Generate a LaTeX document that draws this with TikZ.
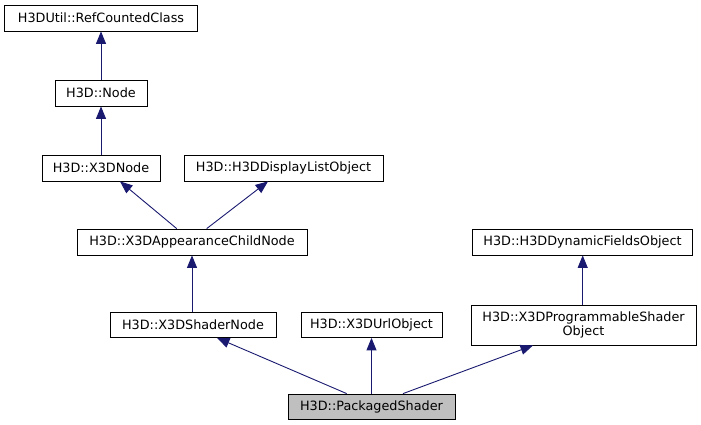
\documentclass[tikz,border=0pt]{standalone}
\usepackage{fontspec}
\setmainfont{DejaVu Sans}
\usetikzlibrary{arrows.meta}
\definecolor{edgeblue}{HTML}{191970}
\definecolor{curgray}{HTML}{BFBFBF}
\begin{document}
\begin{tikzpicture}[x=1pt,y=-1pt,
  cls/.style={draw=black,line width=0.8pt,fill=white,inner sep=0pt,align=center,
    font=\fontsize{12.8}{12.3}\selectfont,minimum height=26pt},
  cur/.style={cls,fill=curgray},
  inh/.style={draw=edgeblue,line width=0.9pt,-{Triangle[length=12.5pt,width=10pt]}}]
\useasboundingbox (0,0) rectangle (701,425);
\node[cls,minimum width=193pt] (rc) at (101,18) {H3DUtil::RefCountedClass};
\node[cls,minimum width=92pt] (node) at (101,93) {H3D::Node};
\node[cls,minimum width=118pt] (x3d) at (101,168) {H3D::X3DNode};
\node[cls,minimum width=199pt] (dlo) at (283.5,168) {H3D::H3DDisplayListObject};
\node[cls,minimum width=230pt] (app) at (192,242) {H3D::X3DAppearanceChildNode};
\node[cls,minimum width=220pt] (dyn) at (582.5,242) {H3D::H3DDynamicFieldsObject};
\node[cls,minimum width=166pt,minimum height=25pt] (shn) at (193,325) {H3D::X3DShaderNode};
\node[cls,minimum width=141pt,minimum height=25pt] (url) at (371.5,325) {H3D::X3DUrlObject};
\node[cls,minimum width=225pt,minimum height=40pt] (pso) at (583.5,325) {H3D::X3DProgrammableShader\\Object};
\node[cur,minimum width=167pt,minimum height=25pt] (pkg) at (371.5,406.5) {H3D::PackagedShader};
\draw[inh] (node.north) -- (rc.south);
\draw[inh] (x3d.north) -- (node.south);
\draw[inh] ([xshift=-15.3pt]app.north) -- ([xshift=19pt]x3d.south);
\draw[inh] ([xshift=14.7pt]app.north) -- ([xshift=-15.5pt]dlo.south);
\draw[inh] ([xshift=-1pt]shn.north) -- ([xshift=-1pt]shn.north |- app.south);
\draw[inh] ([xshift=-0.8pt]pso.north) -- ([xshift=-0.8pt]pso.north |- dyn.south);
\draw[inh] ([xshift=-24.8pt]pkg.north) -- ([xshift=24pt]shn.south);
\draw[inh] (pkg.north) -- (url.south);
\draw[inh] ([xshift=31.5pt]pkg.north) -- ([xshift=-50.5pt]pso.south);
\end{tikzpicture}
\end{document}
